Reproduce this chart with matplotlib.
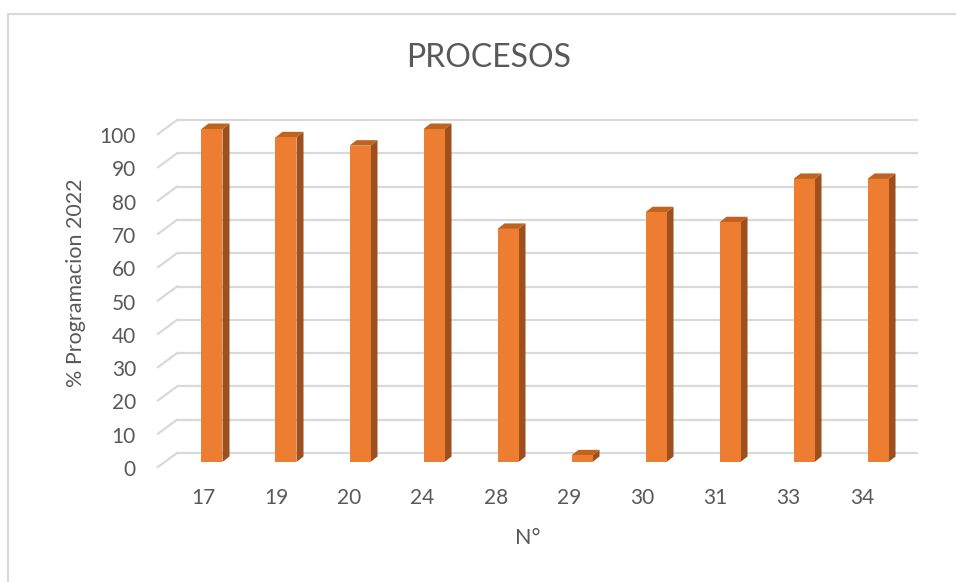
import matplotlib
matplotlib.use("Agg")
import matplotlib.pyplot as plt
from matplotlib.patches import Polygon
from matplotlib.lines import Line2D
from matplotlib.transforms import ScaledTranslation

categories = ["17", "19", "20", "24", "28", "29", "30", "31", "33", "34"]
values = [100, 97.5, 95, 100, 70, 2, 75, 72, 85, 85]
y_ticks = [0, 10, 20, 30, 40, 50, 60, 70, 80, 90, 100]
title = "PROCESOS"
x_title = "N°"
y_title = "% Programacion 2022"

W, H = 956, 582
DPI = 100
plt.rcParams['font.family'] = ['Lato', 'DejaVu Sans']
TXT = "#595959"
GRID = "#D9D9D9"
FRONT = "#ED7D31"
SIDE = "#9E4F1E"
TOP = "#C0631F"

fig = plt.figure(figsize=(W / DPI, H / DPI), dpi=DPI)

def fx(px):
    return px / W

def fy(py):
    return 1 - py / H

def shift(dx, dy):
    return ScaledTranslation(dx / DPI, dy / DPI, fig.dpi_scale_trans)

# back-wall plotting region in pixels
L, R, T, B = 177, 918, 120, 453
ax = fig.add_axes([fx(L), fy(B), fx(R - L), (B - T) / H])
ax.set_axis_off()
xlim = (-0.635, 9.378)
ax.set_xlim(*xlim)
ax.set_ylim(0, 100)
pxx = (R - L) / (xlim[1] - xlim[0])
pxy = (B - T) / 100.0

# gridlines on the back wall + diagonal side lines
for v in y_ticks:
    ax.plot([xlim[0], xlim[1]], [v, v], color=GRID, lw=1.6, clip_on=False,
            solid_capstyle='butt', zorder=1)
    ax.plot([xlim[0], xlim[0] - 19 / pxx], [v, v - 14 / pxy], color=GRID,
            lw=1.6, clip_on=False, zorder=1)
    ax.text(xlim[0], v, str(v), transform=ax.transData + shift(-41, -17),
            ha='right', va='center', fontsize=15, color=TXT)

# 3D-looking bars
front_tr = ax.transData + shift(-12, -9)
w = 21 / pxx
ddx = 7 / pxx
ddy = 5.5 / pxy
for i, v in enumerate(values):
    x0, x1 = i - w / 2, i + w / 2
    side = Polygon([(x1, 0), (x1 + ddx, ddy), (x1 + ddx, v + ddy), (x1, v)],
                   closed=True, facecolor=SIDE, edgecolor='none',
                   transform=front_tr, clip_on=False, zorder=3)
    top = Polygon([(x0, v), (x0 + ddx, v + ddy), (x1 + ddx, v + ddy), (x1, v)],
                  closed=True, facecolor=TOP, edgecolor='none',
                  transform=front_tr, clip_on=False, zorder=3)
    front = Polygon([(x0, 0), (x1, 0), (x1, v), (x0, v)], closed=True,
                    facecolor=FRONT, edgecolor='none', transform=front_tr,
                    clip_on=False, zorder=4)
    for p in (side, top, front):
        ax.add_patch(p)

# category labels along the front edge
ax2 = fig.add_axes([fx(L), fy(B), fx(R - L), (B - T) / H])
ax2.set_axis_off()
ax2.set_xlim(-0.355, 9.768)
ax2.set_ylim(0, 100)
for i, c in enumerate(categories):
    ax2.text(i, 0, c, transform=ax2.transData + shift(0, -45), ha='center',
             va='center', fontsize=15, color=TXT)

fig.text(fx(488.5), fy(58), title, ha='center', va='center', fontsize=23,
         color=TXT)
fig.text(fx(528), fy(538), x_title, ha='center', va='center', fontsize=15.5,
         color=TXT)
fig.text(fx(76), fy(283), y_title, ha='center', va='center', fontsize=15.5,
         color=TXT, rotation=90)

# chart border (left and top visible)
fig.add_artist(Line2D([fx(8), fx(8)], [fy(14), 0], color=GRID, lw=1.5,
                      transform=fig.transFigure))
fig.add_artist(Line2D([fx(8), 1], [fy(14), fy(14)], color=GRID, lw=1.5,
                      transform=fig.transFigure))

fig.savefig("out.png", dpi=DPI)
